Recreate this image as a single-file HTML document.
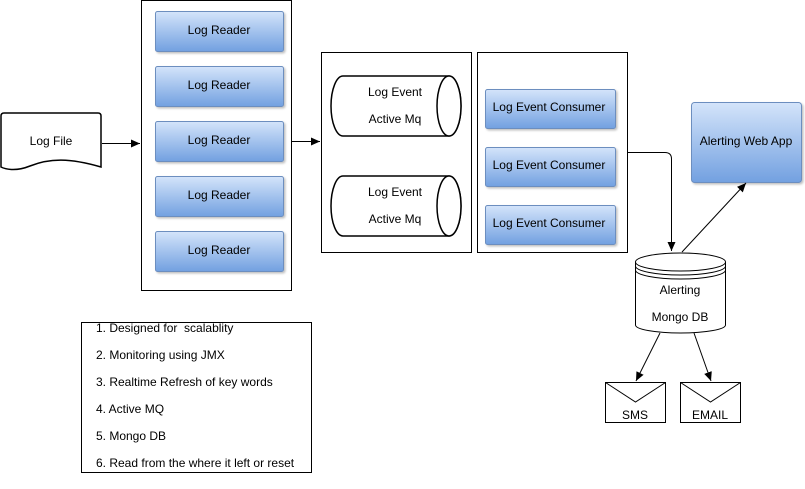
<!DOCTYPE html><html><head><style>body{margin:0;background:#fff}svg{display:block}text{font-family:"Liberation Sans",sans-serif;font-size:12px;fill:#000}</style></head><body>
<svg width="805" height="489" viewBox="0 0 805 489">
<defs>
<linearGradient id="g" x1="0" y1="0" x2="0" y2="1"><stop offset="0" stop-color="#d4e4fa"/><stop offset="1" stop-color="#72a0e0"/></linearGradient>
<marker id="a" markerWidth="10" markerHeight="10" refX="9" refY="5" orient="auto" markerUnits="userSpaceOnUse"><path d="M0,1 L9,5 L0,9 Z" fill="#000"/></marker>
<filter id="s"><feDropShadow dx="1.5" dy="1.5" stdDeviation="1" flood-opacity="0.25"/></filter>
</defs>
<g fill="none" stroke="#000" stroke-width="1">
<rect x="141.5" y="0.5" width="150" height="290"/>
<rect x="321.5" y="52.5" width="150" height="200"/>
<rect x="477.5" y="52.5" width="150" height="200"/>
<rect x="81.5" y="322.5" width="230" height="150"/>
</g>
<path d="M1,116 Q1,113 4,113 L98,113 Q101,113 101,116 L101,167 C70,158 50,158 30,166 C15,172 5,169 1,167 Z" fill="#fff" stroke="#000" stroke-width="1.5"/>
<text x="51" y="145" text-anchor="middle">Log File</text>
<g fill="url(#g)" stroke="#6c8ebf" filter="url(#s)">
<rect x="155.5" y="11.5" width="128" height="40" rx="2"/>
<rect x="155.5" y="66.5" width="128" height="40" rx="2"/>
<rect x="155.5" y="121.5" width="128" height="40" rx="2"/>
<rect x="155.5" y="176.5" width="128" height="40" rx="2"/>
<rect x="155.5" y="231.5" width="128" height="40" rx="2"/>
<rect x="485.5" y="89.5" width="130" height="39" rx="2"/>
<rect x="485.5" y="147.5" width="130" height="39" rx="2"/>
<rect x="485.5" y="205.5" width="130" height="39" rx="2"/>
<rect x="691.5" y="102.5" width="110" height="80" rx="3"/>
</g>
<g text-anchor="middle">
<text x="219" y="34">Log Reader</text><text x="219" y="89">Log Reader</text><text x="219" y="144">Log Reader</text><text x="219" y="199">Log Reader</text><text x="219" y="254">Log Reader</text>
<text x="549" y="111">Log Event Consumer</text><text x="549" y="169">Log Event Consumer</text><text x="549" y="227">Log Event Consumer</text>
<text x="746" y="145">Alerting Web App</text>
</g>
<g fill="#fff" stroke="#000" stroke-width="1.5">
<path d="M343,76 L449,76 A12,30 0 0 1 449,136 L343,136 A12,30 0 0 1 343,76 Z"/><ellipse cx="449" cy="106" rx="12" ry="30"/>
<path d="M343,176 L449,176 A12,30 0 0 1 449,236 L343,236 A12,30 0 0 1 343,176 Z"/><ellipse cx="449" cy="206" rx="12" ry="30"/>
</g>
<g text-anchor="middle"><text x="395" y="96">Log Event</text><text x="395" y="123">Active Mq</text><text x="395" y="196">Log Event</text><text x="395" y="223">Active Mq</text></g>
<g fill="#fff" stroke="#000">
<path d="M635.5,262 A45,9 0 0 1 725.5,262 L725.5,325 A45,8 0 0 1 635.5,325 Z"/>
<path d="M635.5,262 A45,9 0 0 0 725.5,262" fill="none"/>
<path d="M635.5,266 A45,9 0 0 0 725.5,266" fill="none"/>
<path d="M635.5,270 A45,9 0 0 0 725.5,270" fill="none"/>
<rect x="605.5" y="382.5" width="60" height="40"/><path d="M605.5,382.5 L635.5,402 L665.5,382.5" fill="none"/>
<rect x="680.5" y="382.5" width="60" height="40"/><path d="M680.5,382.5 L710.5,402 L740.5,382.5" fill="none"/>
</g>
<g text-anchor="middle"><text x="680" y="294">Alerting</text><text x="680" y="321">Mongo DB</text><text x="635" y="419">SMS</text><text x="710" y="419">EMAIL</text></g>
<g fill="none" stroke="#000" stroke-width="1" marker-end="url(#a)">
<path d="M102,143.5 L140,143.5"/>
<path d="M291,141.5 L320,141.5"/>
<path d="M628,152.5 L665,152.5 Q671.5,152.5 671.5,159 L671.5,251"/>
<path d="M682,252 L746,183"/>
<path d="M660,333 L636,381"/>
<path d="M694,333 L711,381"/>
</g>
<g font-size="11">
<text x="96" y="332">1. Designed for&#160; scalablity</text>
<text x="96" y="359">2. Monitoring using JMX</text>
<text x="96" y="386">3. Realtime Refresh of key words</text>
<text x="96" y="413">4. Active MQ</text>
<text x="96" y="440">5. Mongo DB</text>
<text x="96" y="467">6. Read from the where it left or reset</text>
</g>
</svg></body></html>
